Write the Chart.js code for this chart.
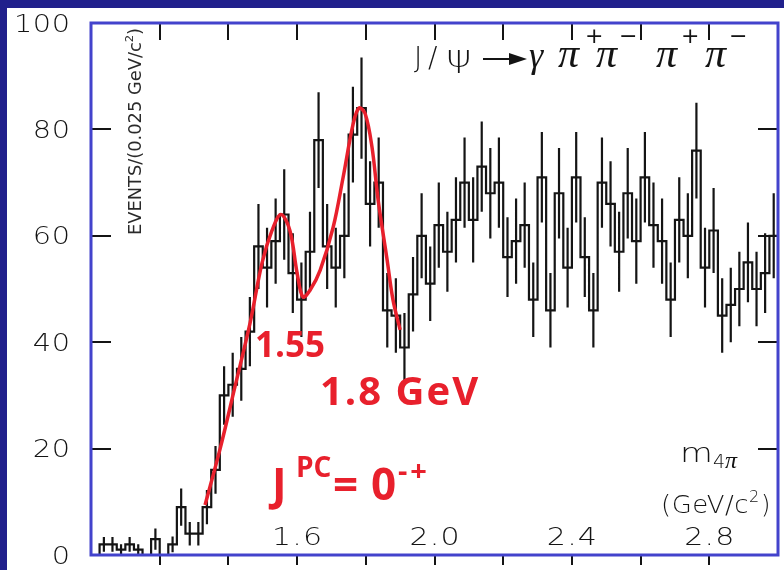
<!DOCTYPE html>
<html>
<head>
<meta charset="utf-8">
<script src="https://cdn.jsdelivr.net/npm/chart.js@4.4.1/dist/chart.umd.min.js"></script>
<style>
  html, body { margin: 0; padding: 0; background: #21208c; }
  canvas { display: block; }
</style>
</head>
<body>
<canvas id="c" width="784" height="570"></canvas>
<script>
// Four-pion invariant mass spectrum in J/psi radiative decays, 0.025 GeV bins
const binStart = 1.0;
const binWidth = 0.025;

const counts = [
  0, 2, 2, 1, 2, 1, 0, 3, 0, 2,
  9, 4, 4, 9, 16, 30, 32, 35, 42, 58,
  54, 59, 64, 53, 48, 57, 78, 58, 54, 60,
  79, 84, 66, 70, 46, 45, 39, 49, 60, 51,
  62, 57, 63, 70, 63, 73, 68, 70, 56, 59,
  62, 48, 71, 46, 68, 54, 71, 56, 46, 70,
  66, 57, 68, 59, 71, 62, 59, 48, 63, 60,
  76, 54, 61, 45, 47, 50, 55, 50, 53, 60
];

const errors = [
  0, 1.4, 1.4, 1, 1.4, 1, 0, 2, 0, 1.5,
  3.5, 2.2, 2.2, 3.2, 4.5, 5.5, 6, 6, 6.5, 8,
  7.5, 8, 8.5, 7.5, 7, 7.5, 9, 8, 7.5, 8,
  9, 9.5, 8, 8.5, 7, 7, 6.5, 7, 8, 7,
  8, 7.5, 8, 8.5, 8, 8.5, 8.5, 8.5, 7.5, 8,
  8, 7, 8.5, 7, 8.5, 7.5, 8.5, 7.5, 7, 8.5,
  8, 7.5, 8.5, 8, 8.5, 8, 8, 7, 8, 8,
  9, 7.5, 8, 7, 7, 7, 7.5, 7, 7.5, 8
];

// Two-resonance fit (1.55 and 1.8 GeV)
const fitMass   = [1.332, 1.376, 1.419, 1.463, 1.498, 1.527, 1.553, 1.579, 1.600, 1.617, 1.638, 1.667, 1.705, 1.734, 1.763, 1.780, 1.798, 1.818, 1.836, 1.862, 1.879, 1.900];
const fitEvents = [9.4,   20,    31.6,  43.6,  54.9,  61,    64,    61,    53,    48.5,  49.8,  53.5,  61.6,  71,    81,    84,    83,    76.7,  66.7,  55.5,  48,    42.3];

const xTickValues = [1.2, 1.4, 1.6, 1.8, 2.0, 2.2, 2.4, 2.6, 2.8];
const xLabelValues = [1.6, 2.0, 2.4, 2.8];
const xLabelTexts = ['1.6', '2.0', '2.4', '2.8'];
const yTickValues = [20, 40, 60, 80];
const yLabelValues = [0, 20, 40, 60, 80, 100];
const yLabelTexts = ['0', '20', '40', '60', '80', '100'];

// Histogram outline: flat top across each bin, vertical edges between bins
const stepPoints = [];
counts.forEach((c, i) => {
  const lo = binStart + i * binWidth;
  stepPoints.push({ x: lo, y: c }, { x: lo + binWidth, y: c });
});

// Vertical error bars at bin centres, separated by gaps
const errPoints = [];
counts.forEach((c, i) => {
  if (!errors[i]) return;
  const mid = binStart + (i + 0.5) * binWidth;
  errPoints.push({ x: mid, y: c - errors[i] }, { x: mid, y: c + errors[i] }, { x: mid, y: null });
});

const fitPoints = fitMass.map((m, i) => ({ x: m, y: fitEvents[i] }));

const FRAME_BLUE = '#4343cc';
const INK = '#141414';
const RED = '#e8202c';
const THIN = '"DejaVu Sans", sans-serif';
const BOLD = '"Open Sans", "DejaVu Sans", sans-serif';
const SERIF = '"Liberation Serif", "DejaVu Serif", serif';

// Draws one text piece; optional letter spacing and horizontal stretch
function put(ctx, text, x, y, font, opts) {
  opts = opts || {};
  const sx = opts.stretch || 1;
  ctx.save();
  ctx.font = font;
  ctx.letterSpacing = (opts.spacing || 0) + 'px';
  ctx.fillStyle = opts.color || INK;
  ctx.textAlign = opts.align || 'left';
  ctx.textBaseline = opts.baseline || 'alphabetic';
  // trailing letter spacing would shift right/center aligned text
  let dx = 0;
  if (opts.spacing && opts.align === 'right') dx = opts.spacing;
  if (opts.spacing && opts.align === 'center') dx = opts.spacing / 2;
  ctx.translate(x, y);
  ctx.scale(sx, 1);
  ctx.fillText(text, dx, 0);
  ctx.restore();
}

const decor = {
  id: 'decor',
  beforeDraw(chart) {
    const ctx = chart.ctx;
    ctx.save();
    ctx.fillStyle = '#21208c';
    ctx.fillRect(0, 0, chart.width, chart.height);
    ctx.fillStyle = '#ffffff';
    ctx.fillRect(7, 8, chart.width - 7, chart.height - 8);
    ctx.restore();
  },
  afterDatasetsDraw(chart) {
    const ctx = chart.ctx;
    const xs = chart.scales.x, ys = chart.scales.y;
    const a = chart.chartArea;
    ctx.save();

    // tick marks: bottom outward, top inward, left/right inward
    ctx.strokeStyle = INK;
    ctx.lineWidth = 2;
    ctx.beginPath();
    xTickValues.forEach(v => {
      const px = Math.round(xs.getPixelForValue(v));
      ctx.moveTo(px, a.bottom); ctx.lineTo(px, a.bottom + 10);
      ctx.moveTo(px, a.top); ctx.lineTo(px, a.top + 17);
    });
    yTickValues.forEach(v => {
      const py = Math.round(ys.getPixelForValue(v));
      ctx.moveTo(a.left, py); ctx.lineTo(a.left + 20, py);
      ctx.moveTo(a.right - 20, py); ctx.lineTo(a.right, py);
    });
    ctx.stroke();

    // frame
    ctx.strokeStyle = FRAME_BLUE;
    ctx.lineWidth = 3;
    ctx.strokeRect(a.left, a.top, a.right - a.left, a.bottom - a.top);

    // y tick labels, right-aligned left of the frame
    const TICKFONT = '200 25px ' + THIN;
    yLabelValues.forEach((v, i) => {
      put(ctx, yLabelTexts[i], a.left - 21, ys.getPixelForValue(v) + 2, TICKFONT,
          { align: 'right', baseline: 'middle', stretch: 1.15, spacing: 0.5 });
    });

    // x tick labels sit inside the frame
    xLabelValues.forEach((v, i) => {
      put(ctx, xLabelTexts[i], xs.getPixelForValue(v), a.bottom - 10, TICKFONT,
          { align: 'center', stretch: 1.2, spacing: 1 });
    });

    // vertical axis title
    ctx.save();
    ctx.translate(141, 235);
    ctx.rotate(-Math.PI / 2);
    ctx.font = '17px ' + THIN;
    const main = 'EVENTS/(0.025 GeV/c';
    const w = ctx.measureText(main).width;
    ctx.font = '11px ' + THIN;
    const w2 = ctx.measureText('2').width;
    ctx.font = '17px ' + THIN;
    const wEnd = ctx.measureText(')').width;
    ctx.scale(207 / (w + w2 + wEnd), 1);
    ctx.fillStyle = '#2a2a2a';
    ctx.textAlign = 'left';
    ctx.textBaseline = 'alphabetic';
    ctx.fillText(main, 0, 0);
    ctx.font = '11px ' + THIN;
    ctx.fillText('2', w, -8);
    ctx.font = '17px ' + THIN;
    ctx.fillText(')', w + w2, 0);
    ctx.restore();

    // reaction label
    put(ctx, 'J', 414, 67, '200 28px ' + THIN);
    put(ctx, '/', 428, 67, '200 28px ' + THIN);
    put(ctx, 'ψ', 446, 67, '200 30px ' + THIN, { stretch: 1.3 });
    const PI = 'italic 42px ' + SERIF, SUP = '22px ' + THIN;
    put(ctx, 'γ', 529, 67, 'italic 36px ' + SERIF);
    put(ctx, 'π', 558, 67, PI);
    put(ctx, '+', 585, 43, SUP);
    put(ctx, 'π', 596, 67, PI);
    put(ctx, '−', 619, 43, SUP);
    put(ctx, 'π', 656, 67, PI);
    put(ctx, '+', 681, 43, SUP);
    put(ctx, 'π', 705, 67, PI);
    put(ctx, '−', 729, 43, SUP);
    // arrow
    ctx.strokeStyle = INK;
    ctx.lineWidth = 2;
    ctx.beginPath();
    ctx.moveTo(483, 59); ctx.lineTo(515, 59);
    ctx.stroke();
    ctx.fillStyle = INK;
    ctx.beginPath();
    ctx.moveTo(509, 53); ctx.lineTo(527, 59); ctx.lineTo(509, 65); ctx.closePath();
    ctx.fill();

    // mass axis title
    put(ctx, 'm', 680, 462, '200 27px ' + THIN, { stretch: 1.25 });
    put(ctx, '4', 713, 468, '200 19px ' + THIN);
    put(ctx, 'π', 725, 468, 'italic 24px ' + SERIF);
    put(ctx, '(GeV/c', 661, 513, '200 24px ' + THIN, { stretch: 1.08, spacing: 0.5 });
    put(ctx, '2', 749, 502, '200 16px ' + THIN);
    put(ctx, ')', 761, 513, '200 24px ' + THIN);

    // resonance annotations
    const RB = 'bold 44px ' + BOLD;
    put(ctx, '1.55', 255, 357, 'bold 35px ' + BOLD, { color: RED });
    put(ctx, '1.8 GeV', 320, 405, 'bold 40px ' + BOLD, { color: RED, spacing: 2 });
    put(ctx, 'J', 272, 500, RB, { color: RED });
    put(ctx, 'PC', 296, 477, 'bold 28px ' + BOLD, { color: RED });
    put(ctx, '=', 333, 500, RB, { color: RED });
    put(ctx, '0', 371, 500, RB, { color: RED });
    put(ctx, '-+', 398, 481, 'bold 29px ' + BOLD, { color: RED, spacing: 3 });

    ctx.restore();
  }
};

new Chart(document.getElementById('c'), {
  type: 'line',
  data: {
    datasets: [
      {
        label: 'fit',
        data: fitPoints,
        borderColor: RED,
        borderWidth: 3.5,
        pointRadius: 0,
        tension: 0.35,
        fill: false
      },
      {
        label: 'events',
        data: stepPoints,
        borderColor: INK,
        borderWidth: 2.2,
        pointRadius: 0,
        tension: 0,
        fill: false
      },
      {
        label: 'errors',
        data: errPoints,
        borderColor: INK,
        borderWidth: 2.2,
        pointRadius: 0,
        tension: 0,
        spanGaps: false,
        fill: false
      }
    ]
  },
  options: {
    responsive: false,
    animation: false,
    devicePixelRatio: 1,
    layout: { padding: { left: 91, top: 23, right: 6, bottom: 15 } },
    plugins: { legend: { display: false }, tooltip: { enabled: false } },
    scales: {
      x: { type: 'linear', min: 1.0, max: 3.0, display: false },
      y: { min: 0, max: 100, display: false }
    }
  },
  plugins: [decor]
});
</script>
</body>
</html>
